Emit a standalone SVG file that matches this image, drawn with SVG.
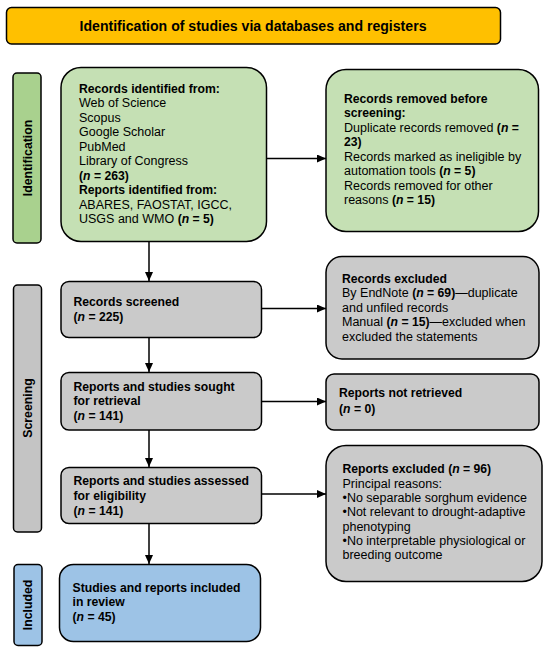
<svg xmlns="http://www.w3.org/2000/svg" width="550" height="653" viewBox="0 0 550 653">
<defs>
<marker id="ah" markerWidth="10" markerHeight="8" refX="9" refY="4" orient="auto" markerUnits="userSpaceOnUse">
<path d="M0,0 L9,4 L0,8 Z" fill="#000"/>
</marker>
<style>
.box{stroke:#000;stroke-width:1.5}
.t{font-family:"Liberation Sans",Arial,sans-serif;font-size:12.5px;fill:#000}
.b{font-weight:bold;font-size:12.2px}
.title{font-family:"Liberation Sans",Arial,sans-serif;font-size:14.1px;font-weight:bold;fill:#000}
.side{font-family:"Liberation Sans",Arial,sans-serif;font-size:12.3px;font-weight:bold;fill:#000}
.green{fill:#C5E0B4}
.gray{fill:#CACACA}
.blue{fill:#9DC3E6}
.c{stroke:#000;stroke-width:1.5;fill:none}
</style>
</defs>
<rect width="550" height="653" fill="#fff"/>

<g id="title">
<rect class="box" x="6.5" y="7.5" width="494" height="36.5" rx="5" fill="#FFC000"/>
<text class="title" x="253" y="31" text-anchor="middle">Identification of studies via databases and registers</text>
</g>

<g id="lbl-identification">
<rect class="box" x="13" y="73" width="28" height="170" rx="4" fill="#A9D18E"/>
<text class="side" transform="translate(31.5,158) rotate(-90)" text-anchor="middle">Identification</text>
</g>
<g id="lbl-screening">
<rect class="box" x="13.5" y="285" width="28" height="247" rx="4" fill="#C4C4C4"/>
<text class="side" transform="translate(31.5,408) rotate(-90)" text-anchor="middle">Screening</text>
</g>
<g id="lbl-included">
<rect class="box" x="14" y="564.5" width="28" height="81" rx="4" fill="#9DC3E6"/>
<text class="side" transform="translate(32,605) rotate(-90)" text-anchor="middle">Included</text>
</g>

<g id="connectors">
<line class="c" x1="149" y1="242" x2="149" y2="281" marker-end="url(#ah)"/>
<line class="c" x1="149" y1="338" x2="149" y2="372" marker-end="url(#ah)"/>
<line class="c" x1="149" y1="430" x2="149" y2="467" marker-end="url(#ah)"/>
<line class="c" x1="149" y1="523" x2="149" y2="564" marker-end="url(#ah)"/>
<line class="c" x1="267" y1="158.5" x2="326" y2="158.5" marker-end="url(#ah)"/>
<line class="c" x1="262" y1="308.5" x2="326" y2="308.5" marker-end="url(#ah)"/>
<line class="c" x1="262" y1="401.5" x2="326" y2="401.5" marker-end="url(#ah)"/>
<line class="c" x1="262" y1="494" x2="326" y2="494" marker-end="url(#ah)"/>
</g>

<g id="records-identified">
<rect class="box green" x="61" y="67.5" width="205.5" height="174" rx="20"/>
<text class="t"><tspan class="b" x="79" y="92.7">Records identified from:</tspan><tspan x="79" y="107.3">Web of Science</tspan><tspan x="79" y="122">Scopus</tspan><tspan x="79" y="136.3">Google Scholar</tspan><tspan x="79" y="151">PubMed</tspan><tspan x="79" y="165.3">Library of Congress</tspan><tspan class="b" x="79" y="179.7">(<tspan font-style="italic">n</tspan> = 263)</tspan><tspan class="b" x="79" y="194.3">Reports identified from:</tspan><tspan x="79" y="209">ABARES, FAOSTAT, IGCC,</tspan><tspan x="79" y="223.3">USGS and WMO <tspan class="b">(<tspan font-style="italic">n</tspan> = 5)</tspan></tspan></text>
</g>

<g id="records-removed">
<rect class="box green" x="326" y="69.5" width="212.5" height="162" rx="20"/>
<text class="t"><tspan class="b" x="344" y="102.7">Records removed before</tspan><tspan class="b" x="344" y="117">screening:</tspan><tspan x="344" y="131.5">Duplicate records removed <tspan class="b">(<tspan font-style="italic">n</tspan> =</tspan></tspan><tspan class="b" x="344" y="146">23)</tspan><tspan x="344" y="160.5">Records marked as ineligible by</tspan><tspan x="344" y="175">automation tools <tspan class="b">(<tspan font-style="italic">n</tspan> = 5)</tspan></tspan><tspan x="344" y="189.5">Records removed for other</tspan><tspan x="344" y="204">reasons <tspan class="b">(<tspan font-style="italic">n</tspan> = 15)</tspan></tspan></text>
</g>

<g id="records-screened">
<rect class="box gray" x="61" y="281.5" width="200.5" height="56" rx="8"/>
<text class="t"><tspan class="b" x="73.5" y="306">Records screened</tspan><tspan class="b" x="73.5" y="321">(<tspan font-style="italic">n</tspan> = 225)</tspan></text>
</g>

<g id="records-excluded">
<rect class="box gray" x="326" y="256.5" width="213" height="102.5" rx="16"/>
<text class="t"><tspan class="b" x="342" y="282.7">Records excluded</tspan><tspan x="342" y="297">By EndNote <tspan class="b">(<tspan font-style="italic">n</tspan> = 69)</tspan>—duplicate</tspan><tspan x="342" y="311.5">and unfiled records</tspan><tspan x="342" y="326">Manual <tspan class="b">(<tspan font-style="italic">n</tspan> = 15)</tspan>—excluded when</tspan><tspan x="342" y="340.5">excluded the statements</tspan></text>
</g>

<g id="sought-retrieval">
<rect class="box gray" x="61" y="372.5" width="200.5" height="57.5" rx="8"/>
<text class="t"><tspan class="b" x="73.5" y="390.7">Reports and studies sought</tspan><tspan class="b" x="73.5" y="405.2">for retrieval</tspan><tspan class="b" x="73.5" y="419.5">(<tspan font-style="italic">n</tspan> = 141)</tspan></text>
</g>

<g id="not-retrieved">
<rect class="box gray" x="326" y="374" width="213" height="56" rx="8"/>
<text class="t"><tspan class="b" x="339" y="397.3">Reports not retrieved</tspan><tspan class="b" x="339" y="412.7">(<tspan font-style="italic">n</tspan> = 0)</tspan></text>
</g>

<g id="assessed-eligibility">
<rect class="box gray" x="61" y="467.5" width="200.5" height="56" rx="8"/>
<text class="t"><tspan class="b" x="73.5" y="485">Reports and studies assessed</tspan><tspan class="b" x="73.5" y="499.5">for eligibility</tspan><tspan class="b" x="73.5" y="514.5">(<tspan font-style="italic">n</tspan> = 141)</tspan></text>
</g>

<g id="reports-excluded">
<rect class="box gray" x="326" y="445.5" width="216" height="136" rx="20"/>
<text class="t"><tspan class="b" x="342.5" y="473.3">Reports excluded (<tspan font-style="italic">n</tspan> = 96)</tspan><tspan x="342.5" y="487.7">Principal reasons:</tspan><tspan x="342.5" y="502">•No separable sorghum evidence</tspan><tspan x="342.5" y="516.3">•Not relevant to drought-adaptive</tspan><tspan x="342.5" y="530.7">phenotyping</tspan><tspan x="342.5" y="545">•No interpretable physiological or</tspan><tspan x="342.5" y="559.3">breeding outcome</tspan></text>
</g>

<g id="included">
<rect class="box blue" x="59.5" y="564.5" width="201" height="77" rx="14"/>
<text class="t"><tspan class="b" x="72.5" y="591.7">Studies and reports included</tspan><tspan class="b" x="72.5" y="606">in review</tspan><tspan class="b" x="72.5" y="621">(<tspan font-style="italic">n</tspan> = 45)</tspan></text>
</g>
</svg>
